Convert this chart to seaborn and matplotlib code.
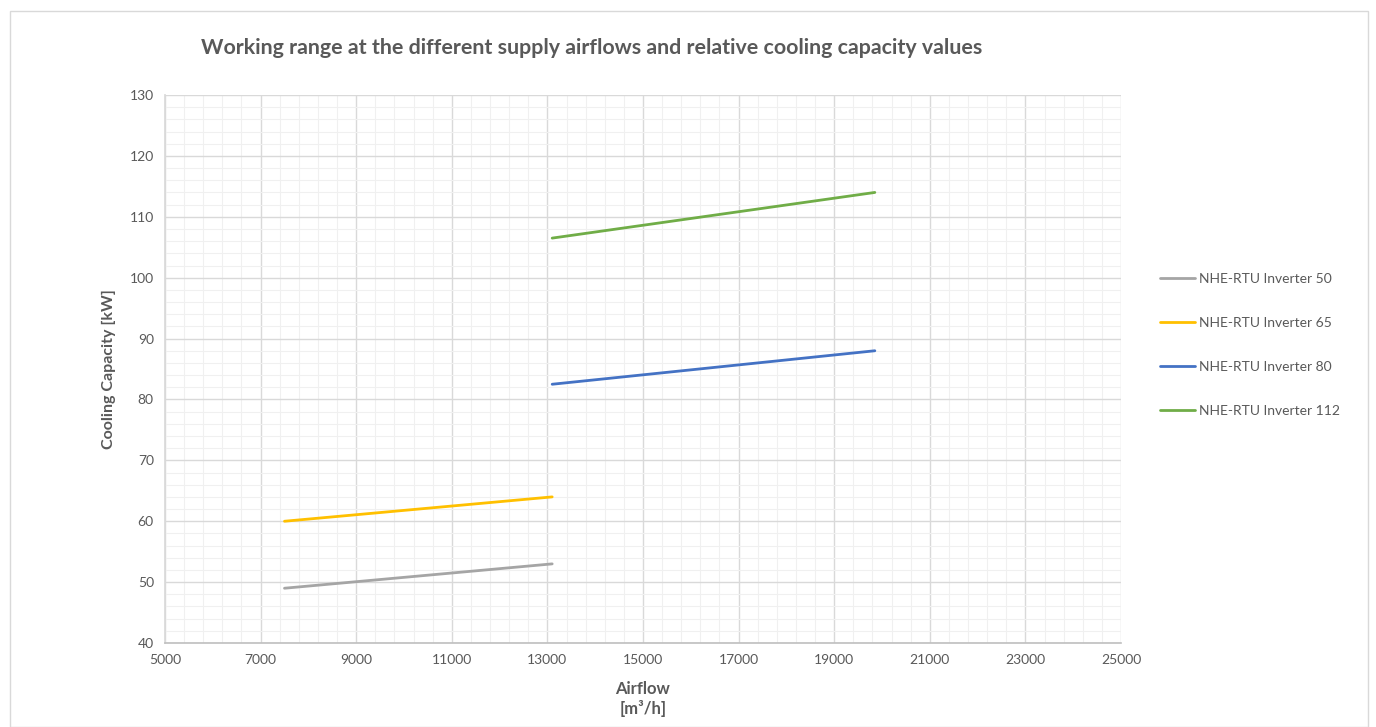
import matplotlib
matplotlib.use("Agg")
import matplotlib.pyplot as plt
import seaborn as sns
import pandas as pd
from matplotlib.ticker import MultipleLocator
from matplotlib.patches import Rectangle

series = ["NHE-RTU Inverter 50", "NHE-RTU Inverter 65", "NHE-RTU Inverter 80", "NHE-RTU Inverter 112"]
airflow_50 = [7500, 13100]
capacity_50 = [49, 53]
airflow_65 = [7500, 13100]
capacity_65 = [60, 64]
airflow_80 = [13100, 19850]
capacity_80 = [82.5, 88]
airflow_112 = [13100, 19850]
capacity_112 = [106.5, 114]
colors = ["#A5A5A5", "#FFC000", "#4472C4", "#70AD47"]

rows = []
for name, xs, ys in zip(series, [airflow_50, airflow_65, airflow_80, airflow_112],
                        [capacity_50, capacity_65, capacity_80, capacity_112]):
    for x, y in zip(xs, ys):
        rows.append({"Airflow": x, "Capacity": y, "Series": name})
df = pd.DataFrame(rows)

sns.set_theme(style="white")
plt.rcParams['font.family'] = ['Lato', 'DejaVu Sans']

fig = plt.figure(figsize=(13.76, 7.27), dpi=100)
ax = fig.add_axes([0.1199, 0.1155, 0.6948, 0.7538])

sns.lineplot(data=df, x="Airflow", y="Capacity", hue="Series", hue_order=series,
             palette=colors, linewidth=2.0, ax=ax, legend=True, estimator=None, sort=False)

ax.set_xlim(5000, 25000)
ax.set_ylim(40, 130)
ax.xaxis.set_major_locator(MultipleLocator(2000, offset=1000))
ax.xaxis.set_minor_locator(MultipleLocator(400, offset=200))
ax.yaxis.set_major_locator(MultipleLocator(10))
ax.yaxis.set_minor_locator(MultipleLocator(2))
ax.grid(which="major", color="#D9D9D9", linewidth=1.0)
ax.grid(which="minor", color="#F0F0F0", linewidth=0.8)
ax.set_axisbelow(True)
ax.tick_params(which="both", length=0, labelsize=10, colors="#595959", pad=8)
for s in ["top", "right"]:
    ax.spines[s].set_visible(False)
ax.spines["left"].set_color("#D9D9D9")
ax.spines["bottom"].set_color("#BFBFBF")
ax.spines["bottom"].set_linewidth(1.2)

ax.set_xlabel("Airflow\n[m³/h]", fontsize=12, fontweight="bold", color="#595959", labelpad=11)
ax.set_ylabel("Cooling Capacity [kW]", fontsize=11.5, fontweight="bold", color="#595959", labelpad=10)

handles, labels = ax.get_legend_handles_labels()
leg = ax.legend(handles, labels, loc="center left", bbox_to_anchor=(1.028, 0.544),
                frameon=False, fontsize=10, labelspacing=2.3, handlelength=2.5,
                handletextpad=0.3, labelcolor="#595959")

fig.text(0.4302, 0.934, "Working range at the different supply airflows and relative cooling capacity values",
         ha="center", va="center", fontsize=15.4, fontweight="bold", color="#595959")

fig.patches.append(Rectangle((10/1376, 0), 1358/1376, 1 - 11/727, transform=fig.transFigure,
                             fill=False, edgecolor="#D9D9D9", linewidth=1.0))

fig.savefig("out.png", dpi=100)
